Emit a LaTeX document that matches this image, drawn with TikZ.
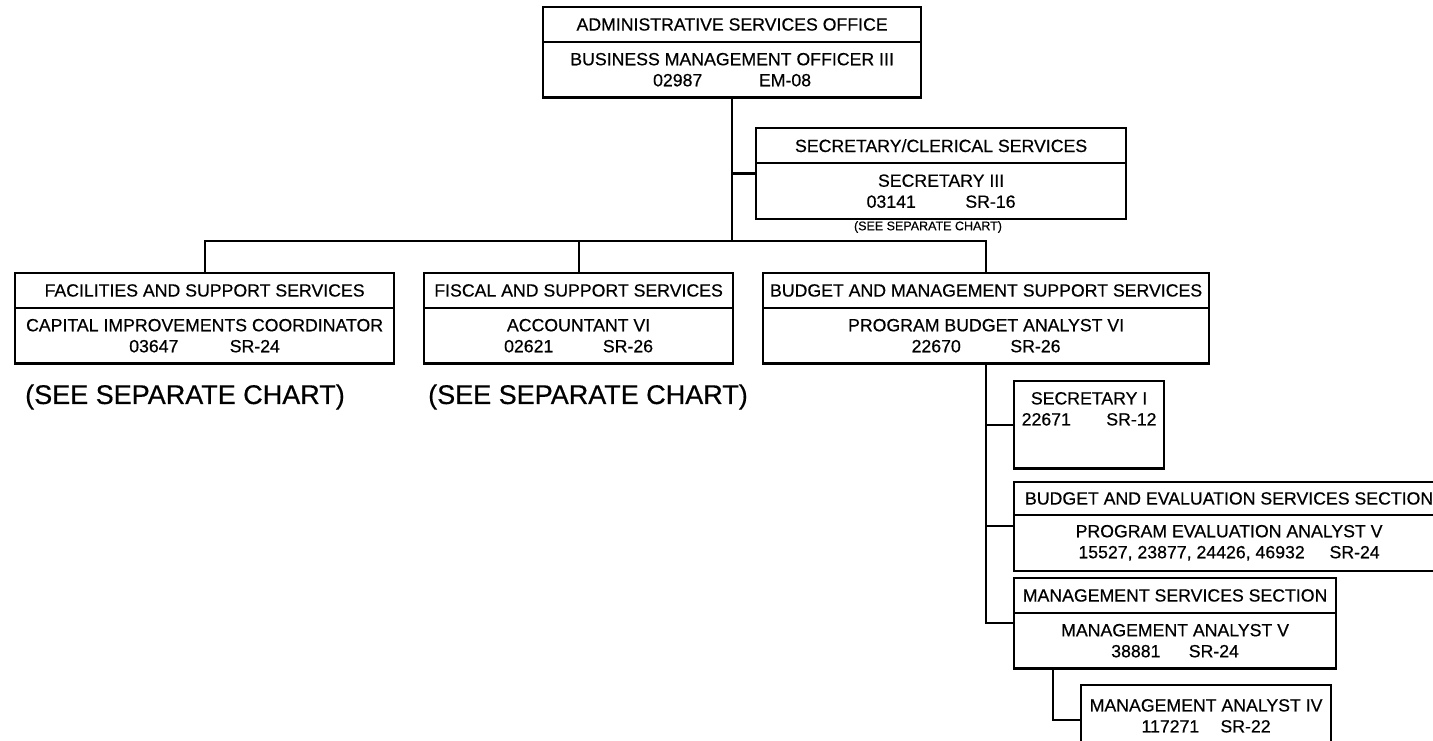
\documentclass[tikz,border=0pt]{standalone}
\usepackage{fontspec}
\setmainfont{Liberation Sans}[FakeBold=0.5]
\usetikzlibrary{shapes.multipart}
\newcommand{\boxfont}{\fontsize{17.7}{21}\selectfont}
\newcommand{\gap}[1]{\hspace{#1em}}

\begin{document}
\begin{tikzpicture}[x=1pt, y=-1pt,
  unit/.style={draw, line width=2.2pt, rectangle split, rectangle split parts=2,
    align=center, anchor=north west, inner xsep=4pt, inner ysep=10pt, font=\boxfont},
  post/.style={draw, line width=2.2pt, align=center, anchor=north west,
    inner xsep=4pt, font=\boxfont},
  link/.style={line width=2.2pt},
  bignote/.style={font=\fontsize{27}{30}\selectfont},
  smallnote/.style={font=\fontsize{12.5}{14}\selectfont}]
\useasboundingbox (0,0) rectangle (1433,741);
% top office
\node[unit, minimum width=378pt] (adm) at (542,6)
  {ADMINISTRATIVE SERVICES OFFICE
   \nodepart{two} BUSINESS MANAGEMENT OFFICER III\\02987\gap{3.2}EM-08};
\node[unit, minimum width=370pt] (sec) at (755,127)
  {SECRETARY/CLERICAL SERVICES
   \nodepart{two} SECRETARY III\\03141\gap{2.8}SR-16};
\node[smallnote] (secnote) at (928,227) {(SEE SEPARATE CHART)};
% second row
\node[unit, minimum width=379pt] (fac) at (14,272)
  {FACILITIES AND SUPPORT SERVICES
   \nodepart{two} CAPITAL IMPROVEMENTS COORDINATOR\\03647\gap{2.9}SR-24};
\node[unit, minimum width=309pt] (fis) at (423,272)
  {FISCAL AND SUPPORT SERVICES
   \nodepart{two} ACCOUNTANT VI\\02621\gap{2.8}SR-26};
\node[unit, minimum width=446pt] (bud) at (762,272)
  {BUDGET AND MANAGEMENT SUPPORT SERVICES
   \nodepart{two} PROGRAM BUDGET ANALYST VI\\22670\gap{2.8}SR-26};
\node[bignote] (facnote) at (185,397) {(SEE SEPARATE CHART)};
\node[bignote] (fisnote) at (588,397) {(SEE SEPARATE CHART)};
% budget column
\node[post, minimum width=150pt, inner ysep=11pt, text depth=32pt] (s1) at (1013,380)
  {SECRETARY I\\22671\gap{2}SR-12};
\node[unit, minimum width=430pt, inner ysep=9pt] (bes) at (1013,481)
  {BUDGET AND EVALUATION SERVICES SECTION
   \nodepart{two} PROGRAM EVALUATION ANALYST V\\15527, 23877, 24426, 46932\gap{1.4}SR-24};
\node[unit, minimum width=322pt] (mss) at (1013,577)
  {MANAGEMENT SERVICES SECTION
   \nodepart{two} MANAGEMENT ANALYST V\\38881\gap{1.6}SR-24};
\node[post, minimum width=250pt, inner ysep=14pt, text depth=9pt] (ma4) at (1080,684)
  {MANAGEMENT ANALYST IV\\117271\gap{1.2}SR-22};
% connectors
\coordinate (busy) at (0,241);
\draw[link] (adm.south) -- (adm.south |- busy);
\draw[link] (fac.north) |- (adm.south |- busy) -| (bud.north);
\draw[link] (fis.north) -- (fis.north |- busy);
\draw[link] (adm.south |- sec.west) -- (sec.west);
\draw[link] (bud.south) |- (mss.west);
\foreach \n in {s1,bes}
  \draw[link] (bud.south |- \n.west) -- (\n.west);
\draw[link] ([xshift=40pt]mss.south west) |- (ma4.west);
\end{tikzpicture}
\end{document}
